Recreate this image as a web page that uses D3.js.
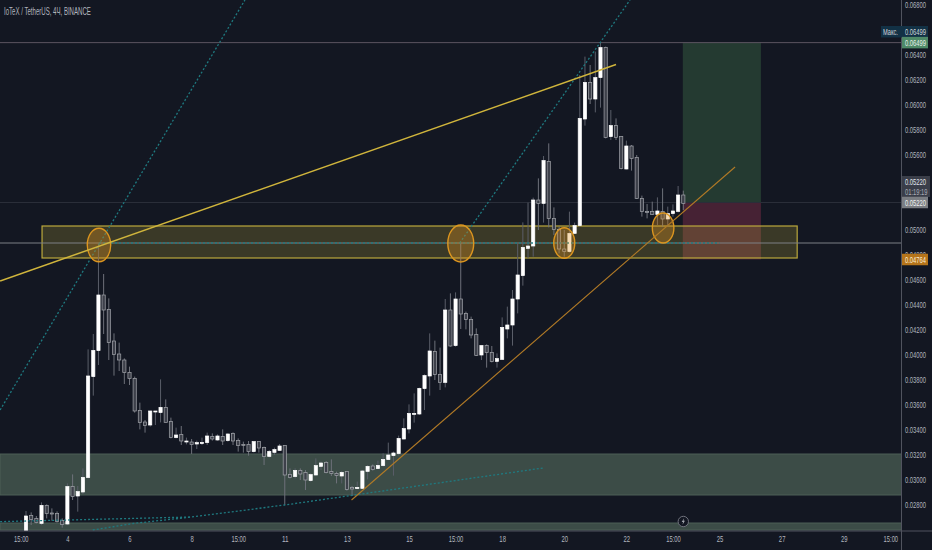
<!DOCTYPE html>
<html>
<head>
<meta charset="utf-8">
<script src="https://cdn.jsdelivr.net/npm/d3@7"></script>
<style>
  html, body { margin: 0; padding: 0; background: #131722; }
  svg { display: block; }
  text { font-family: "Liberation Sans", sans-serif; }
</style>
</head>
<body>
<div id="chart"></div>
<script>
// prices are in units of 0.00001 USDT, one entry per 4h bar
const highs = [2752,2741,2712,2821,2805,2773,2749,2693,2973,3045,2952,3093,4045,4168,4896,4648,4453,4173,4099,3973,3907,3827,3619,3480,3555,3552,3805,3645,3499,3419,3432,3339,3328,3315,3339,3379,3373,3365,3405,3373,3381,3333,3307,3312,3307,3307,3267,3240,3259,3288,3280,3093,3093,3093,3080,3053,3173,3147,3152,3165,3067,3072,3069,2952,2987,3080,3120,3125,3155,3213,3299,3227,3355,3493,3605,3693,3739,3845,4173,4115,4059,4448,4493,4501,4896,4347,4307,4213,4080,4085,4072,4013,4301,4387,4520,4893,5061,5219,5259,5413,5592,5693,5181,5027,5000,5147,5059,6240,6387,6320,6427,6499,6467,5960,5893,5752,5715,5680,5600,5275,5208,5227,5261,5333,5187,5205,5352,5315];
const bodyTops = [2712,2715,2691,2797,2797,2736,2731,2675,2947,2947,2907,3021,3832,4037,4480,4480,4365,4112,4008,3960,3861,3813,3557,3464,3552,3552,3581,3581,3469,3360,3363,3312,3304,3299,3301,3352,3349,3352,3349,3368,3371,3317,3285,3285,3307,3307,3261,3229,3243,3272,3277,3043,3077,3077,3059,3043,3115,3136,3139,3067,3053,3061,3067,2939,2941,3072,3109,3112,3117,3165,3200,3216,3333,3411,3533,3533,3733,3835,4032,4029,3845,4360,4360,4448,4448,4333,4285,4163,4075,4075,4021,3971,4221,4240,4448,4640,4861,4872,5240,5240,5555,5549,5093,5005,4848,4973,5035,5893,6181,6181,6219,6459,6461,5835,5835,5747,5672,5672,5579,5253,5147,5147,5152,5147,5131,5152,5280,5280];
const bodyBottoms = [2547,2683,2659,2653,2731,2731,2669,2645,2648,2867,2872,2904,3019,3827,4035,4360,4099,4005,3960,3859,3811,3552,3459,3437,3440,3547,3539,3461,3339,3339,3312,3304,3283,3288,3291,3299,3328,3320,3312,3315,3312,3277,3280,3227,3227,3256,3189,3189,3221,3237,3040,3019,3027,3048,3000,2995,3040,3109,3059,3053,3037,3032,2925,2928,2931,2933,3069,3083,3091,3115,3163,3195,3211,3328,3408,3528,3528,3731,3832,3843,3781,3781,4072,4075,4328,4285,4160,3997,4000,4019,3947,3949,3965,4208,4240,4448,4635,4853,4872,5213,5213,5093,5005,4848,4827,4827,4973,5035,5888,6048,6048,6219,5741,5747,5741,5493,5488,5573,5253,5147,5139,5125,5125,5088,5088,5131,5149,5213];
const lows = [2530,2640,2653,2640,2693,2675,2659,2619,2640,2840,2747,2888,3013,3675,3920,4168,3960,3835,3872,3768,3760,3539,3405,3379,3427,3440,3461,3461,3333,3333,3280,3285,3208,3248,3280,3280,3315,3315,3280,3307,3280,3227,3219,3195,3221,3219,3120,3181,3200,3232,2800,3013,3013,3000,2920,2987,3035,3080,3053,3032,2973,2973,2915,2872,2928,2928,3005,3075,3088,3107,3160,3035,3197,3325,3373,3459,3520,3560,3675,3800,3720,3741,4067,4067,4208,4205,4133,3992,3960,3899,3941,3899,3960,4133,4075,4333,4555,4773,4787,5000,5059,5021,4960,4813,4787,4819,4968,5027,5835,6008,5941,5979,5733,5720,5720,5485,5485,5475,5248,5107,5093,5120,5040,5027,5027,5107,5141,5160];
// 1 = close above open (white candle), 0 = close below open
const isUp = [1,0,0,1,0,0,0,0,1,0,1,1,1,1,1,0,0,0,0,0,0,0,0,0,1,1,1,0,0,1,0,1,0,1,1,1,0,1,0,1,0,0,0,0,1,0,0,1,1,1,0,0,1,0,0,1,1,1,0,0,0,1,0,0,1,1,1,0,1,1,1,1,1,1,1,1,1,1,1,0,0,1,0,1,0,0,0,0,1,0,0,1,1,1,1,1,1,1,1,0,1,0,0,0,0,1,1,1,1,0,1,1,0,1,0,0,1,0,0,0,0,0,1,0,1,1,1,0];

// 0.052, 0.054 and 0.066 sit behind the price tags in the picture
const priceTicks = [2800,3000,3200,3400,3600,3800,4000,4200,4400,4600,4800,5000,5600,5800,6000,6200,6400,6800];
const timeTickBars = [-1,8,20,32,41,50,62,74,83,92,104,116,125,134,146,158,167];
const timeTickLabels = ['15:00','4','6','8','15:00','11','13','15','15:00','18','20','22','15:00','25','27','29','15:00'];

// drawings, in bar index / price
const yellowZone = [3.1, 149, 4776, 5032];
const greenBands = [[3208, 2880], [2656, 2600]];
const longTarget = [126.9, 142, 6499, 5220];
const longStop = [126.9, 142, 5220, 4764];
const touchEllipses = [[14.1, 4880, 2.26, 134], [84, 4892, 2.5, 148], [104, 4896, 2.03, 122], [123.1, 5016, 2.08, 120]];
const yellowTrend = [[-5, 4592], [114, 6324]];
const orangeTrend = [[62.9, 2840], [137, 5504]];
const dottedLines = [
  [[-5, 3560], [42.3, 6840]],
  [[14.1, 4896], [134, 4896]],
  [[83.8, 4896], [116.7, 6840]],
  [[-5, 2667], [32, 2704], [50, 2800], [99.9, 3096]],
  [[12.9, 2600], [20.7, 2652], [32, 2704]]
];

const width = 932, height = 550, paneW = 901.5, paneH = 531;
const fmt = v => (v / 100000).toFixed(5);

const x = d3.scaleLinear().domain([0, 127]).range([26, 683.3]);
const y = d3.scaleLinear().domain([2800, 6800]).range([505, 5]);

const svg = d3.select('#chart').append('svg')
  .attr('width', width)
  .attr('height', height)
  .style('background-color', '#131722');

svg.append('clipPath').attr('id', 'pane')
  .append('rect').attr('width', paneW).attr('height', paneH);

const pane = svg.append('g').attr('clip-path', 'url(#pane)');

// green support bands
pane.selectAll('.band')
  .data(greenBands)
  .join('rect')
  .attr('class', 'band')
  .attr('x', 0)
  .attr('width', paneW)
  .attr('y', d => y(d[0]))
  .attr('height', d => y(d[1]) - y(d[0]))
  .attr('fill', '#3c4c47')
  .attr('stroke', '#4d5f56');

// long position box
pane.append('rect')
  .attr('x', x(longTarget[0]))
  .attr('width', x(longTarget[1]) - x(longTarget[0]))
  .attr('y', y(longTarget[2]))
  .attr('height', y(longTarget[3]) - y(longTarget[2]))
  .attr('fill', '#243a31');
pane.append('rect')
  .attr('x', x(longStop[0]))
  .attr('width', x(longStop[1]) - x(longStop[0]))
  .attr('y', y(longStop[2]))
  .attr('height', y(longStop[3]) - y(longStop[2]))
  .attr('fill', '#462234');

// horizontal levels
pane.append('line').attr('x1', 0).attr('x2', paneW).attr('y1', y(6499)).attr('y2', y(6499))
  .attr('stroke', '#5c5560').attr('stroke-width', 1);
pane.append('line').attr('x1', 0).attr('x2', paneW).attr('y1', y(5220)).attr('y2', y(5220))
  .attr('stroke', '#2a2e39').attr('stroke-width', 1);

// yellow zone
pane.append('rect')
  .attr('x', x(yellowZone[0]))
  .attr('width', x(yellowZone[1]) - x(yellowZone[0]))
  .attr('y', y(yellowZone[3]))
  .attr('height', y(yellowZone[2]) - y(yellowZone[3]))
  .attr('fill', 'rgba(200,180,60,0.22)')
  .attr('stroke', '#bba83c')
  .attr('stroke-width', 1.2);

pane.append('line').attr('x1', 0).attr('x2', paneW).attr('y1', y(4896)).attr('y2', y(4896))
  .attr('stroke', '#7d8085').attr('stroke-width', 1);

// candles
const bars = d3.range(highs.length);
const candles = pane.selectAll('.candle').data(bars).join('g').attr('class', 'candle');
candles.append('line')
  .attr('x1', i => x(i))
  .attr('x2', i => x(i))
  .attr('y1', i => y(highs[i]))
  .attr('y2', i => y(lows[i]))
  .attr('stroke', i => isUp[i] ? '#5a5e69' : '#6e717a')
  .attr('stroke-width', 1);
candles.append('rect')
  .attr('x', i => x(i) - 1.6)
  .attr('width', 3.2)
  .attr('y', i => y(bodyTops[i]))
  .attr('height', i => Math.max(y(bodyBottoms[i]) - y(bodyTops[i]), 1))
  .attr('fill', i => isUp[i] ? '#ffffff' : '#3d404a')
  .attr('stroke', i => isUp[i] ? '#ffffff' : '#a3a5ab')
  .attr('stroke-width', 0.7);

// drawings on top
const lineGen = d3.line().x(d => x(d[0])).y(d => y(d[1]));

pane.selectAll('.dotted')
  .data(dottedLines)
  .join('path')
  .attr('class', 'dotted')
  .attr('d', lineGen)
  .attr('fill', 'none')
  .attr('stroke', '#1f7a80')
  .attr('stroke-width', 1.3)
  .attr('stroke-dasharray', '2 2');

pane.selectAll('.touch')
  .data(touchEllipses)
  .join('ellipse')
  .attr('class', 'touch')
  .attr('cx', d => x(d[0]))
  .attr('cy', d => y(d[1]))
  .attr('rx', d => x(d[2]) - x(0))
  .attr('ry', d => y(0) - y(d[3]))
  .attr('fill', 'rgba(230,150,30,0.32)')
  .attr('stroke', '#dd961f')
  .attr('stroke-width', 1.4);

pane.append('path').attr('d', lineGen(yellowTrend))
  .attr('fill', 'none').attr('stroke', '#d0b53c').attr('stroke-width', 1.5);
pane.append('path').attr('d', lineGen(orangeTrend))
  .attr('fill', 'none').attr('stroke', '#b17a26').attr('stroke-width', 1.1);

// axis separators
svg.append('line').attr('x1', paneW).attr('x2', paneW).attr('y1', 0).attr('y2', height)
  .attr('stroke', '#50535e');
svg.append('line').attr('x1', 0).attr('x2', width).attr('y1', paneH).attr('y2', paneH)
  .attr('stroke', '#50535e');

// the picture's labels are very narrow, no installed font is that condensed,
// so squash them horizontally to the width they have there
function squash(node, w, px, py) {
  const sx = w / node.getComputedTextLength();
  d3.select(node).attr('transform', `translate(${px},${py}) scale(${sx},1)`);
}

function label(px, py, txt, size, fill, w) {
  const t = svg.append('text').attr('font-size', size).attr('fill', fill).text(txt);
  squash(t.node(), w, px, py);
}

// price axis
const yAxis = d3.axisRight(y).tickValues(priceTicks).tickFormat(fmt).tickSize(0).tickPadding(0);
const yG = svg.append('g').attr('transform', 'translate(905,0)').call(yAxis);
yG.select('.domain').remove();
yG.selectAll('text').attr('fill', '#b2b5be').attr('font-size', 8.8)
  .each(function () { squash(this, 21, 0, 0); });

// time axis
const timeScale = d3.scaleOrdinal().domain(timeTickBars).range(timeTickLabels);
const xAxis = d3.axisBottom(x).tickValues(timeTickBars).tickFormat(d => timeScale(d)).tickSize(0).tickPadding(0);
const xG = svg.append('g').attr('transform', `translate(0,${paneH + 4})`).call(xAxis);
xG.select('.domain').remove();
xG.selectAll('text').attr('fill', '#b2b5be').attr('font-size', 9.8)
  .each(function (d) { squash(this, timeScale(d).length === 5 ? 14.5 : timeScale(d).length * 3.3, 0, 0); });

// price tags
function tag(price, bg, fg, txt) {
  const yy = y(price);
  svg.append('rect').attr('x', 902).attr('y', yy - 5.75).attr('width', 26).attr('height', 11.5).attr('fill', bg);
  label(905, yy + 3, txt, 8.8, fg, 21);
}

// Max label sits above the 0.06499 line
svg.append('rect').attr('x', 881).attr('y', 26).attr('width', 47).attr('height', 11.5).attr('fill', '#123145');
label(883, 34.5, 'Макс.', 8.5, '#d1d4dc', 15);
label(905, 34.5, fmt(6499), 8.8, '#d1d4dc', 21);

tag(6499, '#4f8a68', '#e6efe9', fmt(6499));

svg.append('rect').attr('x', 902).attr('y', 176).attr('width', 28).attr('height', 21).attr('fill', '#3a3e49');
label(905, 184.5, fmt(5220), 8.8, '#e0e3eb', 21);
label(905, 194.5, '01:19:19', 8.8, '#a9acb5', 22.5);
tag(5220, '#7b7e83', '#f0f0f0', fmt(5220));
tag(4764, '#b5741a', '#fbeed8', fmt(4764));

// event marker
const marker = svg.append('g').attr('transform', `translate(${x(127)},${y(2668)})`);
marker.append('circle').attr('r', 5.2).attr('fill', '#131722').attr('stroke', '#787b86').attr('stroke-width', 0.9);
marker.append('path').attr('d', 'M0.8,-3.2 L-1.6,0.5 L-0.2,0.5 L-0.8,3.2 L1.6,-0.7 L0.2,-0.7 Z').attr('fill', '#a6a9b2');

// title
label(4, 14.5, 'IoTeX / TetherUS, 4Ч, BINANCE', 10.5, '#b2b5be', 87);
</script>
</body>
</html>
